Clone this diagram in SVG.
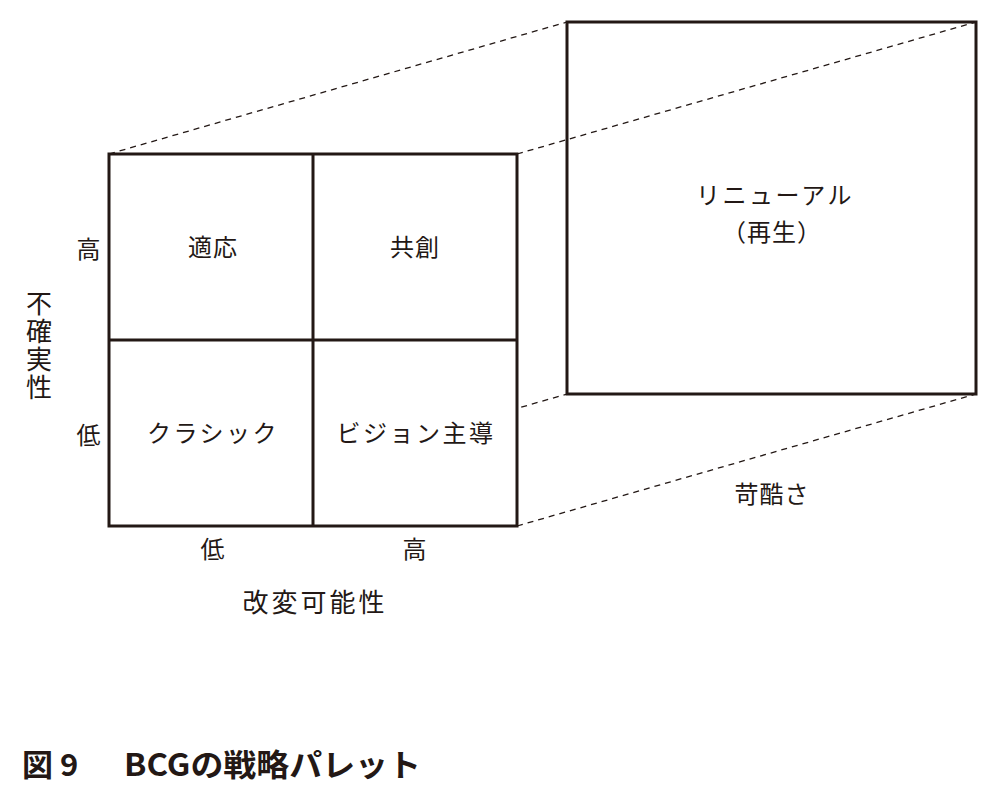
<svg xmlns="http://www.w3.org/2000/svg" width="1000" height="796" viewBox="0 0 1000 796">
<style>
.t{font-family:"Noto Sans CJK JP","Noto Sans",sans-serif;fill:#231815;text-anchor:middle;font-size:24px;letter-spacing:1px}
.k{letter-spacing:2.5px}
.box{fill:#fff;stroke:#231815;stroke-width:3}
.frame{fill:none;stroke:#231815;stroke-width:3}
.dash{stroke:#231815;stroke-width:1.3;stroke-dasharray:6 5;fill:none}
.title{font-family:"Noto Sans CJK JP","Noto Sans",sans-serif;font-weight:bold;fill:#231815;font-size:31px}
</style>
<rect width="1000" height="796" fill="#fff"/>
<g id="connectors">
<line class="dash" x1="109" y1="154" x2="567" y2="22"/>
<line class="dash" x1="517" y1="154" x2="976" y2="22"/>
<line class="dash" x1="109" y1="526" x2="567" y2="394"/>
<line class="dash" x1="517" y1="526" x2="976" y2="394"/>
</g>
<g id="grid">
<rect class="box" x="109" y="154" width="408" height="372"/>
<line class="frame" x1="313" y1="154" x2="313" y2="526"/>
<line class="frame" x1="109" y1="340" x2="517" y2="340"/>
</g>
<g id="q-adapt"><text class="t" x="213" y="256">適応</text></g>
<g id="q-cocreate"><text class="t" x="415" y="256">共創</text></g>
<g id="q-classic"><text class="t k" x="213" y="442">クラシック</text></g>
<g id="q-vision"><text class="t k" x="416" y="442">ビジョン主導</text></g>
<g id="renewal">
<rect class="frame" x="567" y="22" width="409" height="372"/>
<text class="t k" x="775" y="204">リニューアル</text>
<text class="t" x="772" y="241">（再生）</text>
</g>
<g id="axis-y">
<text class="t" x="89" y="258">高</text>
<text class="t" x="89" y="444">低</text>
<text class="t" x="39" y="290" style="font-size:26px;letter-spacing:2px;writing-mode:vertical-rl;text-anchor:start">不確実性</text>
</g>
<g id="axis-x">
<text class="t" x="213" y="558">低</text>
<text class="t" x="415" y="558">高</text>
<text class="t" x="315" y="612" style="font-size:26px;letter-spacing:3px">改変可能性</text>
</g>
<g id="severity"><text class="t" x="772" y="503">苛酷さ</text></g>
<g id="caption">
<text class="title" x="22" y="776">図</text>
<text class="title" x="60" y="776">9</text>
<text class="title" x="124" y="776" textLength="297" lengthAdjust="spacingAndGlyphs">BCGの戦略パレット</text>
</g>
</svg>
